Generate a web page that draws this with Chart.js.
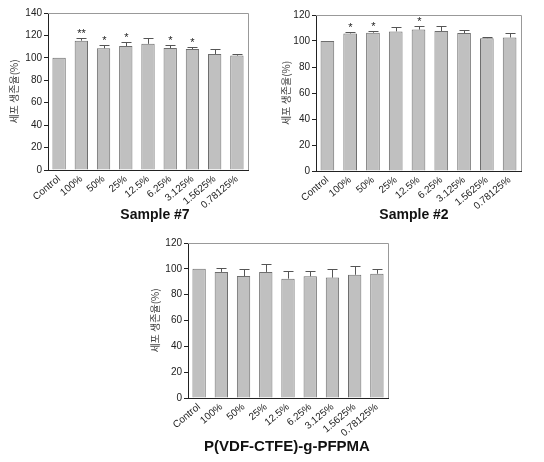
<!DOCTYPE html>
<html>
<head>
<meta charset="utf-8">
<script src="https://cdn.jsdelivr.net/npm/chart.js@4/dist/chart.umd.min.js"></script>
<style>
  body { margin: 0; background: #fff; width: 544px; height: 462px; position: relative; overflow: hidden; }
  canvas { position: absolute; }
  .title { position: absolute; font: bold 14px "Liberation Sans", Arial, sans-serif; color: #111; transform: translate(-50%, -50%); white-space: nowrap; }
</style>
</head>
<body>
<canvas id="c7" width="272" height="215" style="left:0;top:0"></canvas>
<canvas id="c2" width="272" height="215" style="left:272px;top:0"></canvas>
<canvas id="c3" width="300" height="232" style="left:120px;top:230px"></canvas>
<div class="title" style="left:155px;top:214px">Sample #7</div>
<div class="title" style="left:414px;top:214px">Sample #2</div>
<div class="title" style="left:287px;top:445px;font-size:15px">P(VDF-CTFE)-g-PFPMA</div>
<script>
const doses = ['Control', '100%', '50%', '25%', '12.5%', '6.25%', '3.125%', '1.5625%', '0.78125%'];

const sample7Mean = [100, 115.3, 108.5, 110.5, 112.5, 108.7, 107.9, 103.4, 102];
const sample7Err = [0.3, 2.3, 3, 3.8, 5, 3, 2.1, 4.5, 1.3];
const sample7Stars = ['', '**', '*', '*', '', '*', '*', '', ''];

const sample2Mean = [100, 105.8, 106.4, 107.4, 108.8, 107.6, 106.1, 102.2, 102.7];
const sample2Err = [0, 1.3, 1.5, 3.5, 3.1, 4.3, 2.5, 1, 3.8];
const sample2Stars = ['', '*', '*', '', '*', '', '', '', ''];

const pfpmaMean = [100, 97.6, 94.4, 97.6, 92.4, 94.2, 93.2, 95.4, 96.2];
const pfpmaErr = [0, 3.1, 5.3, 6, 5.7, 3.8, 7, 6.5, 3.4];
const pfpmaStars = ['', '', '', '', '', '', '', '', ''];

const yTitle = '세포 생존율(%)';
const FONT = '"Liberation Sans", Arial, sans-serif';

// upper error bars + significance stars, plus the grey top/right frame
const errorBars = {
  id: 'errorBars',
  afterDatasetsDraw(chart, args, opts) {
    const ctx = chart.ctx;
    const y = chart.scales.y;
    const meta = chart.getDatasetMeta(0);
    const vals = chart.data.datasets[0].data;
    ctx.save();
    ctx.strokeStyle = '#555';
    ctx.lineWidth = 1;
    meta.data.forEach((bar, i) => {
      const x = Math.round(bar.x) + 0.5;
      const y0 = y.getPixelForValue(vals[i]);
      const y1 = Math.round(y.getPixelForValue(vals[i] + opts.errors[i])) + 0.5;
      if (opts.errors[i] > 0.5) {
        ctx.beginPath();
        ctx.moveTo(x, y0);
        ctx.lineTo(x, y1);
        ctx.moveTo(x - 5, y1);
        ctx.lineTo(x + 5, y1);
        ctx.stroke();
      }
      if (opts.stars[i]) {
        ctx.fillStyle = '#222';
        ctx.font = '11px ' + FONT;
        ctx.textAlign = 'center';
        ctx.textBaseline = 'middle';
        ctx.fillText(opts.stars[i], x, y1 - 5);
      }
    });
    const a = chart.chartArea;
    ctx.strokeStyle = '#999';
    ctx.beginPath();
    ctx.moveTo(a.left, Math.round(a.top) + 0.5);
    ctx.lineTo(Math.round(a.right) + 0.5, Math.round(a.top) + 0.5);
    ctx.lineTo(Math.round(a.right) + 0.5, a.bottom);
    ctx.stroke();
    ctx.restore();
  }
};

function makeChart(id, values, errors, stars, yMax, pad, yWidth, xHeight) {
  new Chart(document.getElementById(id), {
    type: 'bar',
    data: {
      labels: doses,
      datasets: [{
        data: values,
        backgroundColor: '#c0c0c0',
        borderColor: '#6e6e6e',
        borderWidth: 1,
        categoryPercentage: 1,
        barPercentage: 0.6
      }]
    },
    options: {
      responsive: false,
      animation: false,
      layout: { padding: pad },
      plugins: {
        legend: { display: false },
        tooltip: { enabled: false },
        errorBars: { errors: errors, stars: stars }
      },
      scales: {
        x: {
          grid: { display: false, drawTicks: false },
          border: { color: '#222' },
          ticks: {
            color: '#222',
            font: { family: FONT, size: 10 },
            maxRotation: 40,
            minRotation: 40,
            autoSkip: false,
            padding: 3
          },
          afterFit: s => { s.height = xHeight; }
        },
        y: {
          min: 0,
          max: yMax,
          grid: { drawOnChartArea: false, tickLength: 4, color: '#222' },
          border: { color: '#222' },
          ticks: {
            stepSize: 20,
            color: '#222',
            font: { family: FONT, size: 10 },
            padding: 2
          },
          title: {
            display: true,
            text: yTitle,
            color: '#444',
            font: { family: '"Noto Sans CJK KR", sans-serif', size: 10 },
            padding: { top: 8, bottom: 0 }
          },
          afterFit: s => { s.width = yWidth; }
        }
      }
    },
    plugins: [errorBars]
  });
}

makeChart('c7', sample7Mean, sample7Err, sample7Stars, 140, { left: 0, top: 13, right: 24, bottom: 0 }, 48, 45);
makeChart('c2', sample2Mean, sample2Err, sample2Stars, 120, { left: 0, top: 15, right: 23, bottom: 0 }, 44, 44);
makeChart('c3', pfpmaMean, pfpmaErr, pfpmaStars, 120, { left: 21, top: 13, right: 32, bottom: 0 }, 47, 64);
</script>
</body>
</html>
